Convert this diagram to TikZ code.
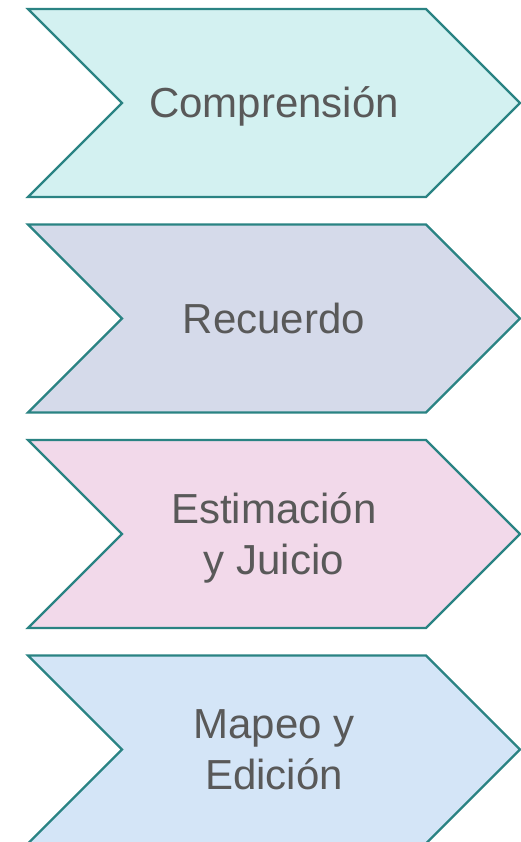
\documentclass[tikz,border=0pt]{standalone}
\usepackage{fontspec}
\setmainfont{Liberation Sans}
\definecolor{edgeteal}{HTML}{2A8383}
\definecolor{txtgrey}{HTML}{595959}
\definecolor{fillA}{HTML}{D3F1F1}
\definecolor{fillB}{HTML}{D5DAEA}
\definecolor{fillC}{HTML}{F2D9EA}
\definecolor{fillD}{HTML}{D4E5F7}
\tikzset{
  chev/.style={draw=edgeteal, line width=2.2pt, line join=miter},
  lbl/.style={text=txtgrey, font=\fontsize{42}{51}\selectfont, align=center, inner sep=0pt, anchor=base}
}
\begin{document}
\begin{tikzpicture}[x=1pt,y=1pt]
\useasboundingbox (0,0) rectangle (521,842);
\foreach \i/\col/\off/\txt in {0/fillA/-15/{Comprensión},1/fillB/-15/{Recuerdo},2/fillC/-40.5/{Estimación\\y Juicio},3/fillD/-40.5/{Mapeo y\\Edición}}{
  \pgfmathsetmacro{\top}{842-9-215.5*\i}
  \pgfmathsetmacro{\mid}{\top-94}
  \pgfmathsetmacro{\bot}{\top-188}
  \draw[chev, fill=\col] (28,\top) -- (426,\top) -- (520,\mid) -- (426,\bot) -- (28,\bot) -- (122,\mid) -- cycle;
  \node[lbl] (t\i) at (274,\mid+\off) {\txt};
}
\end{tikzpicture}
\end{document}
